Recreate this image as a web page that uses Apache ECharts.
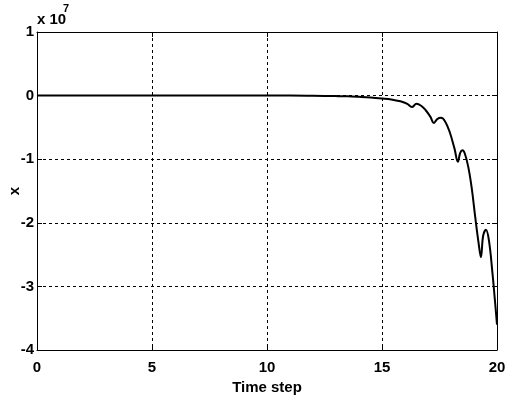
<!DOCTYPE html>
<html>
<head>
<meta charset="utf-8">
<script src="https://cdn.jsdelivr.net/npm/echarts@6/dist/echarts.min.js"></script>
<style>
  html, body { margin: 0; padding: 0; background: #fff; }
  #main { width: 505px; height: 401px; }
</style>
</head>
<body>
<div id="main"></div>
<script>
// time steps and x values (in units of 1e7)
var timeSteps = [0, 2, 4, 6, 8, 10, 11, 12, 13, 13.5, 14, 14.5, 15, 15.4, 15.8, 16.1, 16.3, 16.5, 16.7, 16.9, 17.1, 17.26, 17.4, 17.57, 17.75, 17.95, 18.15, 18.3, 18.4, 18.5, 18.6, 18.75, 18.9, 19.05, 19.2, 19.3, 19.4, 19.52, 19.65, 19.8, 19.9, 20];
var xValues = [0, 0, 0, 0, 0, 0, 0, -0.003, -0.008, -0.012, -0.02, -0.03, -0.045, -0.06, -0.09, -0.13, -0.18, -0.13, -0.16, -0.23, -0.33, -0.43, -0.37, -0.35, -0.41, -0.58, -0.83, -1.04, -0.9, -0.86, -0.91, -1.12, -1.45, -1.9, -2.32, -2.54, -2.2, -2.11, -2.28, -2.78, -3.18, -3.6];
var xTicks = [0, 5, 10, 15, 20];
var yTicks = [-4, -3, -2, -1, 0, 1];

var fontFam = '"Liberation Sans", Arial, sans-serif';

var pts = [];
for (var i = 0; i < timeSteps.length; i++) {
  pts.push([timeSteps[i], xValues[i]]);
}

var myChart = echarts.init(document.getElementById('main'));

var option = {
  animation: false,
  grid: { left: 37, right: 8, top: 32, bottom: 51, containLabel: false, outerBoundsMode: 'none' },
  xAxis: [{
    type: 'value', min: xTicks[0], max: xTicks[xTicks.length - 1], interval: 5,
    name: 'Time step', nameLocation: 'middle', nameGap: 30,
    nameTextStyle: { fontFamily: fontFam, fontWeight: 'bold', fontSize: 15, color: '#000' },
    axisLine: { show: true, onZero: false, lineStyle: { color: '#000', width: 1 } },
    axisTick: { show: true, inside: true, length: 5, lineStyle: { color: '#000' } },
    axisLabel: { fontFamily: fontFam, fontWeight: 'bold', fontSize: 15, color: '#000', margin: 10 },
    splitLine: { show: true, lineStyle: { color: '#000', type: [3, 3], width: 1 } }
  }, {
    type: 'value', position: 'top', min: 0, max: 20, interval: 5,
    axisLine: { show: true, onZero: false, lineStyle: { color: '#000', width: 1 } },
    axisTick: { show: true, inside: true, length: 5, lineStyle: { color: '#000' } },
    axisLabel: { show: false },
    splitLine: { show: false }
  }],
  yAxis: [{
    type: 'value', min: yTicks[0], max: yTicks[yTicks.length - 1], interval: 1,
    name: 'x', nameLocation: 'middle', nameGap: 15, nameRotate: 90, nameMoveOverlap: false,
    nameTextStyle: { fontFamily: fontFam, fontWeight: 'bold', fontSize: 15, color: '#000' },
    axisLine: { show: true, onZero: false, lineStyle: { color: '#000', width: 1 } },
    axisTick: { show: true, inside: true, length: 5, lineStyle: { color: '#000' } },
    axisLabel: { fontFamily: fontFam, fontWeight: 'bold', fontSize: 15, color: '#000', margin: 3 },
    splitLine: { show: true, lineStyle: { color: '#000', type: [3, 3], width: 1 } }
  }, {
    type: 'value', position: 'right', min: -4, max: 1, interval: 1,
    axisLine: { show: true, onZero: false, lineStyle: { color: '#000', width: 1 } },
    axisTick: { show: true, inside: true, length: 5, lineStyle: { color: '#000' } },
    axisLabel: { show: false },
    splitLine: { show: false }
  }],
  graphic: [{
    type: 'text', left: 37, top: 12,
    style: { text: 'x 10', font: 'bold 15px ' + fontFam, fill: '#000' }
  }, {
    type: 'text', left: 63, top: 3,
    style: { text: '7', font: 'bold 11px ' + fontFam, fill: '#000' }
  }],
  series: [{
    type: 'line',
    data: pts,
    xAxisIndex: 0, yAxisIndex: 0,
    showSymbol: false,
    smooth: 0.4,
    lineStyle: { color: '#000', width: 2 }
  }]
};
myChart.setOption(option);
</script>
</body>
</html>
